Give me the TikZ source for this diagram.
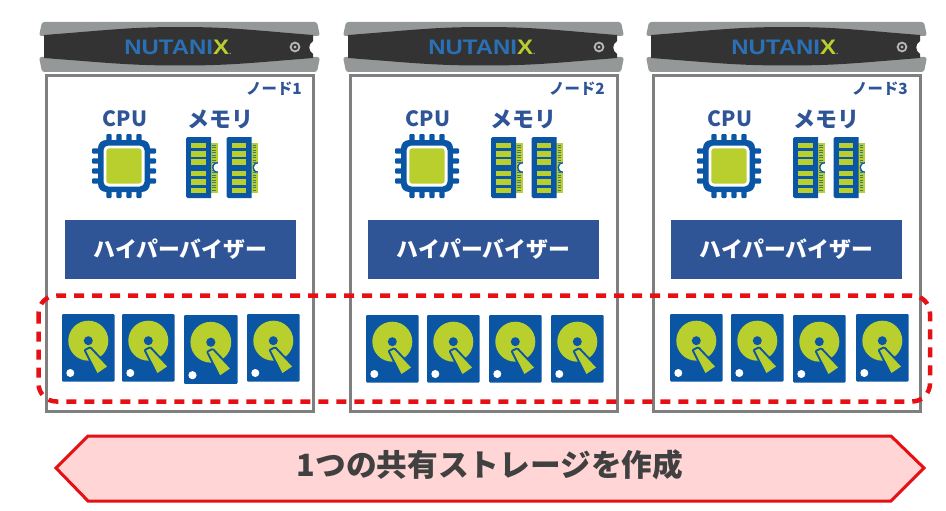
\documentclass[tikz,border=0pt]{standalone}
\usepackage{fontspec}
\setmainfont{Noto Sans CJK JP}
\newfontfamily\logofont{Liberation Sans}
\definecolor{navy}{HTML}{2F5597}
\definecolor{iconblue}{HTML}{0B56A4}
\definecolor{logoblue}{HTML}{2B6FB5}
\definecolor{lime}{HTML}{B8CF2E}
\definecolor{boxgrey}{HTML}{7F7F7F}
\definecolor{bezel}{HTML}{959899}
\definecolor{darkband}{HTML}{333333}
\definecolor{redline}{HTML}{E60F14}
\definecolor{arrowfill}{HTML}{FFD5D5}
\tikzset{
  nodebox/.style={draw=boxgrey,line width=3pt},
  hyperbox/.style={fill=navy,minimum width=231pt,minimum height=59pt,inner sep=0pt,text=white,font=\fontsize{21.8}{22}\selectfont\bfseries},
  headlabel/.style={text=navy,inner sep=0pt,font=\fontsize{21}{21}\selectfont\bfseries},
  memlabel/.style={text=navy,inner sep=0pt,font=\fontsize{22}{22}\selectfont\bfseries},
  nodelabel/.style={text=navy,inner sep=0pt,anchor=east,font=\fontsize{15.4}{15}\selectfont\bfseries},
  storagebox/.style={draw=redline,line width=4.5pt,rounded corners=18pt,dash pattern=on 10pt off 8pt},
  banner/.style={draw=redline,line width=3pt,fill=arrowfill,line join=miter},
  bannertext/.style={text=black!75,inner sep=0pt,font=\fontsize{30.7}{31}\selectfont\bfseries},
  pin/.style={fill=iconblue,rounded corners=1pt},
}
\newcommand{\serverbox}[2]{%
\begin{scope}[shift={(#1,0)}]
  \fill[bezel,rounded corners=2.5pt] (42,22) -- (317,22) -- (320,36) -- (39,36) -- cycle;
  \fill[bezel,rounded corners=2.5pt] (39,57) -- (320,57) -- (317,72) -- (42,72) -- cycle;
  \fill[darkband] (44,35) .. controls (110,30) and (130,27) .. (180,27) .. controls (230,27) and (250,30) .. (313,35)
     -- (313,41) .. controls (308,44) and (308,51) .. (313,54)
     -- (313,58) .. controls (250,63) and (230,65.5) .. (180,65.5) .. controls (130,65.5) and (110,63) .. (44,58) -- cycle;
  \node[inner sep=0pt,xscale=1.14] (logo#2) at (178,47) {\logofont\fontsize{21}{21}\selectfont\bfseries\textcolor{logoblue}{NUTANI}\textcolor{lime}{X}\textcolor{bezel}{\fontsize{8}{8}\selectfont.}};
  \draw[bezel!70!white,line width=1.8pt] (295,47) circle (4.4pt);
  \fill[bezel!70!white] (295,47) circle (1.7pt);
\end{scope}}
\newcommand{\cpuicon}[2]{%
\begin{scope}[shift={(#1,#2)}]
  \foreach \p in {-15,-5,5,15}{
    \fill[pin] (\p-2.6,-32) rectangle (\p+2.6,32);
    \fill[pin] (-32,\p-2.6) rectangle (32,\p+2.6);
  }
  \fill[iconblue,rounded corners=8pt] (-26,-26) rectangle (26,26);
  \fill[white,rounded corners=5pt] (-20.5,-20.5) rectangle (20.5,20.5);
  \fill[lime,rounded corners=3pt] (-17.7,-17.7) rectangle (17.7,17.7);
\end{scope}}
\newcommand{\memstick}[2]{%
\begin{scope}[shift={(#1,#2)}]
  \fill[lime] (24,6) rectangle (31.5,56);
  \foreach \t in {8,10.5,...,54}{\draw[iconblue!70!lime,line width=.7pt] (26,\t) -- (29.5,\t);}
  \fill[iconblue] (31.5,30.5) circle (5.5pt);
  \fill[white] (31.5,30.5) circle (4pt);
  \fill[white] (31.6,22) rectangle (37,39);
  \fill[iconblue] (0,1.5) -- (1.5,0) -- (25,0) -- (25,61) -- (1.5,61) -- (0,59.5) -- cycle;
  \foreach \t in {5.7,14,22.3,33.7,42.3,50.7}{\fill[lime] (5,\t) rectangle (19.7,\t+5.7);}
\end{scope}}
\newcommand{\hdd}[3][1]{%
\begin{scope}[shift={(#2,#3)},scale=#1]
  \fill[iconblue,rounded corners=1pt] (0,0) rectangle (52.5,67.5);
  \fill[lime] (26.3,26.7) circle (20pt);
  \fill[iconblue] (26.3,26.7) circle (4.5pt);
  \draw[iconblue,line width=4pt,line join=round] (24,36.5) -- (28,34.5) -- (45,52.5) -- (35.5,59) -- cycle;
  \fill[lime] (24,36.5) -- (28,34.5) -- (45,52.5) -- (35.5,59) -- cycle;
  \fill[white] (8.3,59) circle (4pt);
\end{scope}}
\begin{document}
\begin{tikzpicture}[x=1pt,y=-1pt]
\useasboundingbox (0,0) rectangle (946,511);
\serverbox{0}{a}
\serverbox{304}{b}
\serverbox{607}{c}
\draw[nodebox] (46,76) rectangle (313,411);
\draw[nodebox] (350,76) rectangle (617,411);
\draw[nodebox] (653,76) rectangle (920,411);
\node[nodelabel] (n1) at (302,89) {ノード1};
\node[nodelabel] (n2) at (605,89) {ノード2};
\node[nodelabel] (n3) at (908,89) {ノード3};
\node[headlabel] (c1) at (125,119) {CPU};
\node[headlabel] (c2) at (428,119) {CPU};
\node[headlabel] (c3) at (730,119) {CPU};
\node[memlabel] (m1) at (220.5,119) {メモリ};
\node[memlabel] (m2) at (523,119) {メモリ};
\node[memlabel] (m3) at (826,119) {メモリ};
\cpuicon{124}{166}
\cpuicon{427}{166}
\cpuicon{729}{166}
\memstick{186}{137}\memstick{226.5}{137}
\memstick{491}{137}\memstick{531.5}{137}
\memstick{793}{137}\memstick{833.5}{137}
\node[hyperbox] (h1) at (180.5,249.5) {ハイパーバイザー};
\node[hyperbox] (h2) at (483.5,249.5) {ハイパーバイザー};
\node[hyperbox] (h3) at (786.5,249.5) {ハイパーバイザー};
\hdd{62}{314}\hdd{122}{314}\hdd[1.02]{184}{315}\hdd{247}{314}
\hdd{366}{315}\hdd{427}{315}\hdd{489}{315}\hdd{551}{315}
\hdd{670}{314}\hdd{731}{314}\hdd{793}{315}\hdd{856}{314}
\draw[storagebox] (38.5,295.5) rectangle (930,401.5);
\draw[banner] (56,468) -- (88,436) -- (891,436) -- (924,468) -- (891,501) -- (88,501) -- cycle;
\node[bannertext] (t) at (490,465) {1つの共有ストレージを作成};
\end{tikzpicture}
\end{document}
